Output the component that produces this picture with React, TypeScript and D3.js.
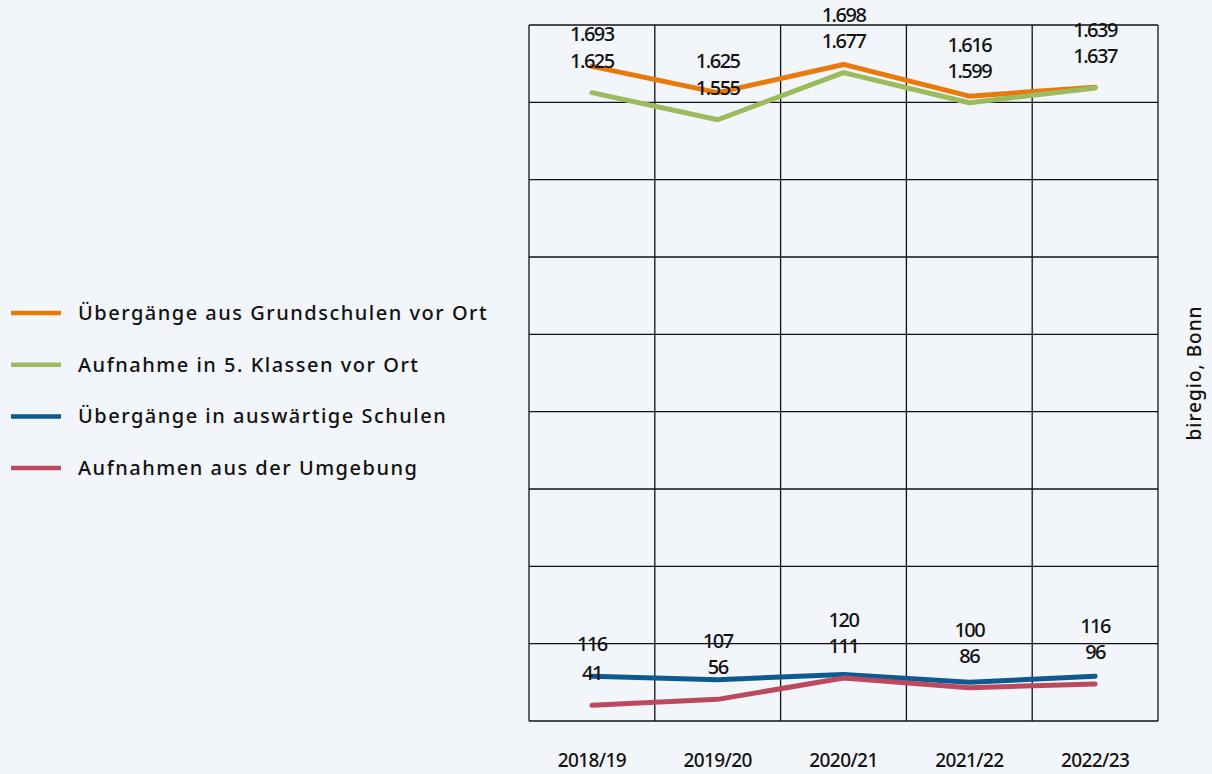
import React from "react";
import * as d3 from "d3";

const years = ["2018/19", "2019/20", "2020/21", "2021/22", "2022/23"];
const seriesNames = [
  "Übergänge aus Grundschulen vor Ort",
  "Aufnahme in 5. Klassen vor Ort",
  "Übergänge in auswärtige Schulen",
  "Aufnahmen aus der Umgebung",
];
const grundschulen = [1693, 1625, 1698, 1616, 1639];
const aufnahme5 = [1625, 1555, 1677, 1599, 1637];
const auswaertig = [116, 107, 120, 100, 116];
const umgebung = [41, 56, 111, 86, 96];
const colors = ["#e8790a", "#9bbb5c", "#0d5a92", "#bc4a5f"];
const yTicks = d3.range(0, 1801, 200);

const W = 1212;
const H = 774;
const left = 529;
const right = 1158;
const top = 25;
const bottom = 721;
const fmt = (v: number) => (v >= 1000 ? d3.format(",")(v).replace(",", ".") : String(v));

const App = () => {
  const x = d3.scaleBand().domain(years).range([left, right]);
  const y = d3.scaleLinear().domain([0, 1800]).range([bottom, top]);
  const all = [grundschulen, aufnahme5, auswaertig, umgebung];
  const line = d3
    .line<number>()
    .x((d, i) => (x(years[i]) as number) + x.bandwidth() / 2);
  line.y((d) => y(d));

  // labels sit above their point, the upper one is pushed up on overlap
  const labels: { x: number; y: number; text: string }[] = [];
  [[0, 1], [2, 3]].forEach(([a, b]) => {
    years.forEach((yr, i) => {
      const cx = (x(yr) as number) + x.bandwidth() / 2;
      let ya = y(all[a][i]) - 32;
      let yb = y(all[b][i]) - 32;
      const gap = 26;
      if (Math.abs(ya - yb) < gap) {
        if (ya <= yb) ya = yb - gap;
        else yb = ya - gap;
      }
      labels.push({ x: cx, y: ya, text: fmt(all[a][i]) });
      labels.push({ x: cx, y: yb, text: fmt(all[b][i]) });
    });
  });

  return (
    <svg
      width={W}
      height={H}
      style={{ position: "absolute", left: 0, top: 0, background: "#f2f5f9" }}
      fontFamily="'Noto Sans', sans-serif"
    >
      <rect width={W} height={H} fill="#f2f5f9" />
      {yTicks.map((t) => (
        <line key={t} x1={left} x2={right} y1={y(t)} y2={y(t)} stroke="#111" strokeWidth={1.3} />
      ))}
      {d3.range(years.length + 1).map((i) => {
        const xx = i < years.length ? (x(years[i]) as number) : right;
        return <line key={i} x1={xx} x2={xx} y1={top} y2={bottom} stroke="#111" strokeWidth={1.3} />;
      })}
      {all.map((s, i) => (
        <path
          key={i}
          d={line(s) || ""}
          fill="none"
          stroke={colors[i]}
          strokeWidth={5}
          strokeLinejoin="round"
          strokeLinecap="round"
        />
      ))}
      {labels.map((l, i) => (
        <text
          key={i}
          x={l.x}
          y={l.y}
          dy="0.35em"
          textAnchor="middle"
          fontSize={20}
          fontWeight={500}
          letterSpacing={-1.5}
          fill="#111"
        >
          {l.text}
        </text>
      ))}
      {years.map((yr) => (
        <text
          key={yr}
          x={(x(yr) as number) + x.bandwidth() / 2}
          y={767}
          textAnchor="middle"
          fontSize={19}
          fontWeight={500}
          letterSpacing={-0.6}
          fill="#111"
        >
          {yr}
        </text>
      ))}
      {seriesNames.map((name, i) => (
        <g key={name} transform={`translate(0, ${313 + i * 51.7})`}>
          <line x1={11} x2={61} y1={0} y2={0} stroke={colors[i]} strokeWidth={4.5} />
          <text
            x={78}
            y={0}
            dy="0.35em"
            fontSize={20}
            fontWeight={500}
            letterSpacing={1.5}
            fill="#111"
          >
            {name}
          </text>
        </g>
      ))}
      <text
        transform="translate(1201, 373) rotate(-90)"
        textAnchor="middle"
        fontSize={19}
        fontWeight={500}
        letterSpacing={1}
        fill="#111"
      >
        biregio, Bonn
      </text>
    </svg>
  );
};

export default App;
